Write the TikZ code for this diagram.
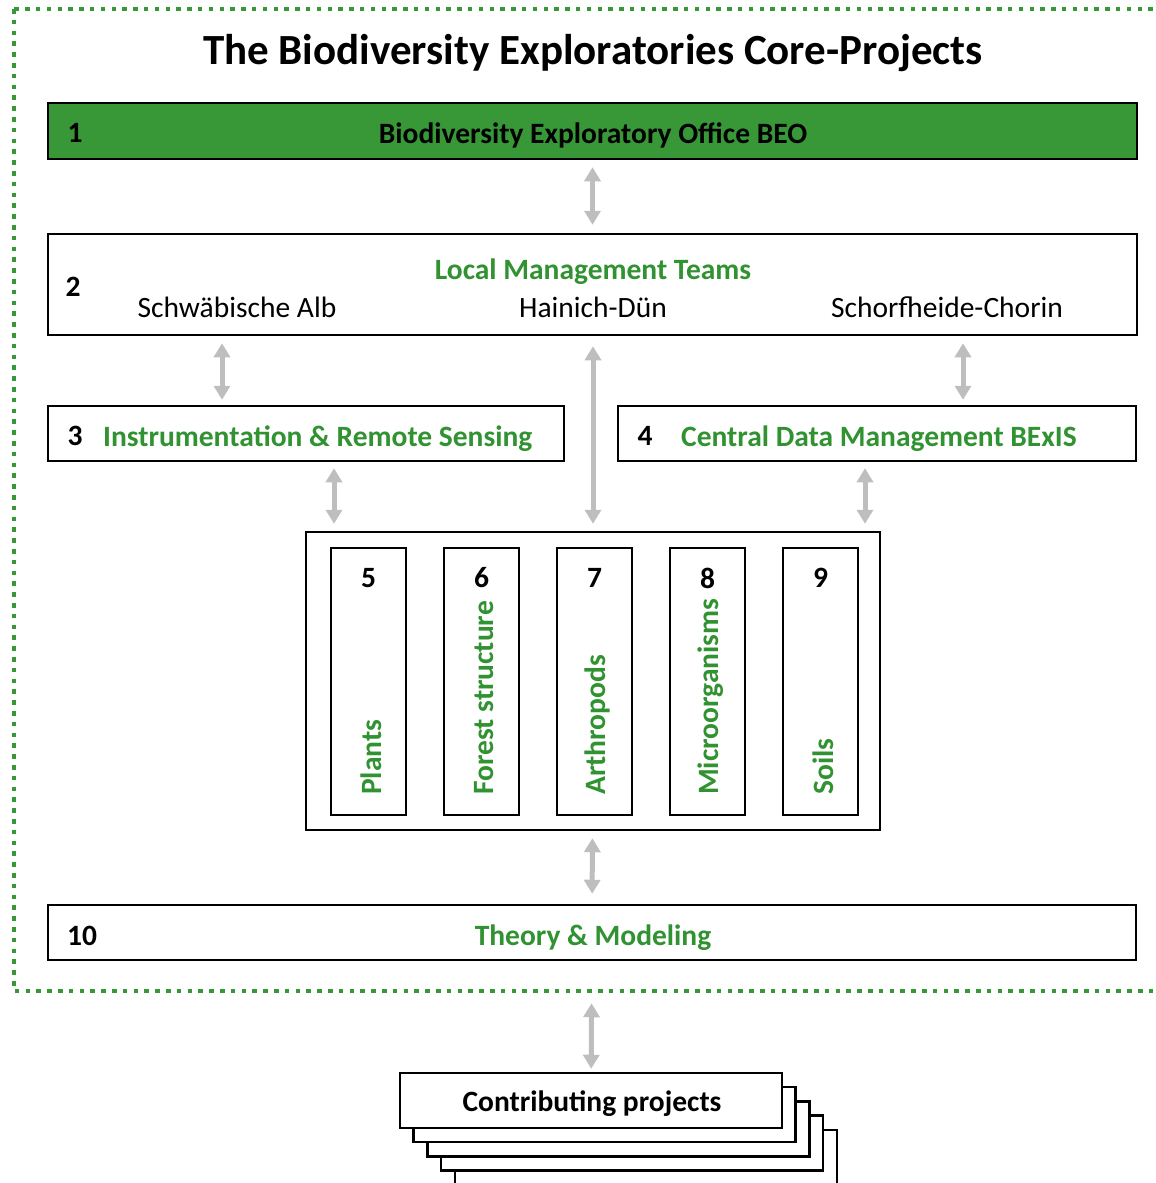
\documentclass[tikz,border=0pt]{standalone}
\usepackage{fontspec}
\setmainfont{Carlito}
\usetikzlibrary{arrows.meta}

\definecolor{beogreen}{RGB}{56,152,56}
\definecolor{labgreen}{RGB}{48,146,48}
\definecolor{arrowgray}{RGB}{190,190,190}

\tikzset{
  box/.style={draw=black, line width=2.5pt, fill=white, rectangle, inner sep=0pt},
  num/.style={font=\fontsize{29.5}{34}\selectfont\bfseries, text=black, inner sep=0pt},
  lab/.style={font=\fontsize{29.5}{34}\selectfont\bfseries, text=labgreen, inner sep=0pt},
  site/.style={font=\fontsize{29.5}{34}\selectfont, inner sep=0pt},
  biarrow/.style={draw=arrowgray, line width=5pt,
    {Triangle[width=16pt,length=14pt]}-{Triangle[width=16pt,length=14pt]}},
  frame/.style={draw=beogreen, line width=4.5pt, dash pattern=on 4.5pt off 6.3pt}
}

\begin{document}
\begin{tikzpicture}[x=1pt, y=-1pt]
  \useasboundingbox (0,0) rectangle (1156,1183);

  % Title
  \node[font=\fontsize{43}{50}\selectfont\bfseries] (title) at (593,53)
    {The Biodiversity Exploratories Core-Projects};

  % Office and local teams
  \node[box, fill=beogreen, minimum width=1089pt, minimum height=56pt] (beo) at (592.5,131) {};
  \node[num] (n1) at (75,133) {1};
  \node[num] (beolab) at (593,135) {Biodiversity Exploratory Office BEO};

  \node[box, minimum width=1089pt, minimum height=101pt] (lmt) at (592.5,284.5) {};
  \node[num] (n2) at (73,287) {2};
  \node[lab] (lmtlab) at (593,272) {Local Management Teams};
  \node[site] (alb) at (237,307) {Schwäbische Alb};
  \node[site] (hai) at (593,307) {Hainich-Dün};
  \node[site] (sch) at (947,307) {Schorfheide-Chorin};

  % Instrumentation and data management
  \node[box, minimum width=516pt, minimum height=55pt] (ir) at (306,433.5) {};
  \node[num] (n3) at (75,436) {3};
  \node[lab, anchor=west] (irlab) at (103,439) {Instrumentation \& Remote Sensing};

  \node[box, minimum width=518pt, minimum height=55pt] (bexis) at (877,433.5) {};
  \node[num] (n4) at (645,436) {4};
  \node[lab, anchor=west] (bexislab) at (681,439) {Central Data Management BExIS};

  % Core projects 5 to 9
  \node[box, minimum width=574pt, minimum height=298pt] (core) at (593,681) {};
  \foreach \i/\cx/\name in {5/368.5/Plants, 6/481.5/Forest structure,
      7/594.5/Arthropods, 8/707.5/Microorganisms, 9/820.5/Soils} {
    \node[box, minimum width=75pt, minimum height=267pt] (col\i) at (\cx,681.5) {};
    \node[num] (n\i) at (\cx,578) {\i};
    \node[lab, rotate=90, anchor=west] (lab\i) at (\cx+3,795) {\name};
  }

  % Theory
  \node[box, minimum width=1088pt, minimum height=55pt] (theory) at (592,932.5) {};
  \node[num] (n10) at (82,936) {10};
  \node[lab] (theorylab) at (593,938) {Theory \& Modeling};

  % Dotted frame round the core projects
  \draw[frame] (14,9) rectangle (1162,991);

  % Stack of contributing projects
  \foreach \k in {4,...,1} {
    \node[box, minimum width=382pt, minimum height=55pt] (page\k)
      at (591+13.7*\k,1100.5+14.2*\k) {};
  }
  \node[box, minimum width=382pt, minimum height=55pt] (contrib) at (591,1100.5) {};
  \node[num] (contriblab) at (592,1104) {Contributing projects};

  % Arrows
  \coordinate (xalb) at (222,0);
  \coordinate (xsch) at (963,0);
  \coordinate (xir) at (334,0);
  \coordinate (xbexis) at (865,0);
  \draw[biarrow, shorten <=7pt, shorten >=8pt] (beo) -- (lmt);
  \draw[biarrow, shorten <=7pt, shorten >=5pt] (lmt.south -| xalb) -- (ir.north -| xalb);
  \draw[biarrow, shorten <=7pt, shorten >=5pt] (lmt.south -| xsch) -- (bexis.north -| xsch);
  \draw[biarrow, shorten <=10pt, shorten >=7pt] (lmt.south -| core.north) -- (core.north);
  \draw[biarrow, shorten <=6pt, shorten >=7pt] (ir.south -| xir) -- (core.north -| xir);
  \draw[biarrow, shorten <=6pt, shorten >=7pt] (bexis.south -| xbexis) -- (core.north -| xbexis);
  \draw[biarrow, shorten <=7pt, shorten >=10pt] (core) -- (theory);
  \draw[biarrow, shorten <=42pt, shorten >=3pt] (theory) -- (contrib);
\end{tikzpicture}
\end{document}
